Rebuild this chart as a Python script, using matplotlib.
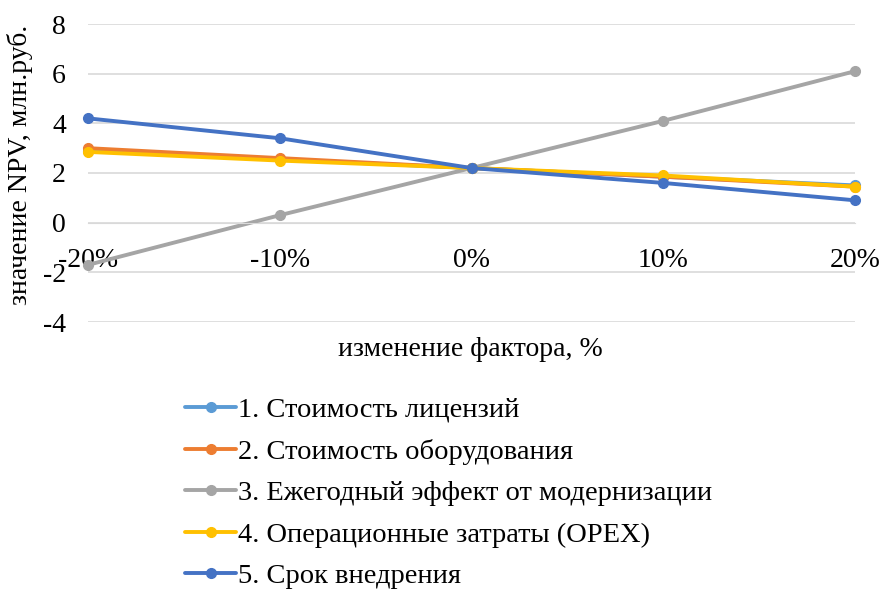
import numpy as np
import matplotlib
matplotlib.use('Agg')
import matplotlib.pyplot as plt

# ---------------------------------------------------------------------------
changes = ['-20%', '-10%', '0%', '10%', '20%']
change_pos = [-20, -10, 0, 10, 20]

s1_licenses = [2.9, 2.55, 2.2, 1.85, 1.5]
s2_equipment = [3.0, 2.6, 2.2, 1.85, 1.45]
s3_effect = [-1.7, 0.3, 2.2, 4.1, 6.1]
s4_opex = [2.85, 2.5, 2.2, 1.9, 1.45]
s5_term = [4.2, 3.4, 2.2, 1.6, 0.9]

names = ['1. Стоимость лицензий',
         '2. Стоимость оборудования',
         '3. Ежегодный эффект от модернизации',
         '4. Операционные затраты (OPEX)',
         '5. Срок внедрения']
colors = ['#5B9BD5', '#ED7D31', '#A5A5A5', '#FFC000', '#4472C4']

# ---------------------------------------------------------------------------
plt.rcParams['font.family'] = ['Liberation Serif', 'DejaVu Serif']
plt.rcParams['axes.unicode_minus'] = False

fig = plt.figure(figsize=(8.83, 5.99), dpi=100)
ax = fig.add_axes([88/883, 1-322/599, (855-88)/883, (322-24)/599])

series = [s1_licenses, s2_equipment, s3_effect, s4_opex, s5_term]
for vals, name, col in zip(series, names, colors):
    ax.plot(change_pos, vals, color=col, lw=2.8, marker='o', ms=7,
            label=name, solid_capstyle='round', clip_on=False)

ax.set_xlim(-20, 20)
ax.set_ylim(-4, 8)
ax.set_yticks(np.arange(-4, 9, 2))
ax.set_xticks(change_pos)
ax.set_xticklabels(changes)
ax.grid(axis='y', color='#D9D9D9', lw=1.2)
ax.set_axisbelow(True)
for s in ['top', 'right', 'left']:
    ax.spines[s].set_visible(False)
ax.spines['bottom'].set_position(('data', 0))
ax.spines['bottom'].set_color('#D9D9D9')
ax.tick_params(axis='x', length=0, pad=18, labelsize=20)
ax.tick_params(axis='y', length=0, pad=16, labelsize=20)

fig.text(470/883, 1-350/599, 'изменение фактора, %', ha='center', va='center', fontsize=20)
fig.text(20/883, 1-165/599, 'значение NPV, млн.руб.', ha='center', va='center',
         rotation=90, fontsize=20)

fig.legend(loc='upper left', bbox_to_anchor=(185/883, 1-397/599), frameon=False,
           fontsize=20.5, handlelength=1.8, handletextpad=0.05, labelspacing=0.55,
           borderaxespad=0, borderpad=0)

plt.savefig('out.png', dpi=100)
